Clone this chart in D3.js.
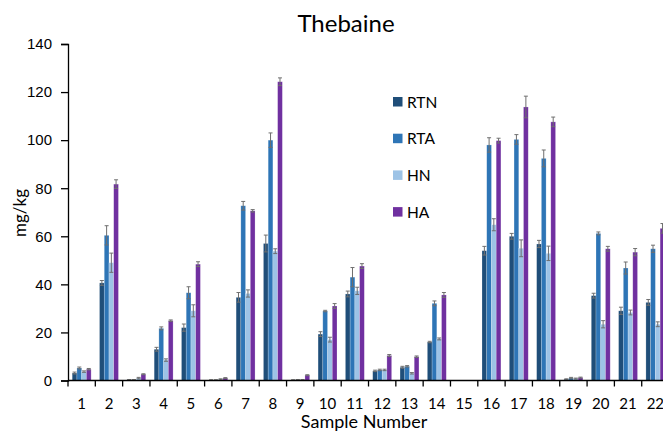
<!DOCTYPE html>
<html lang="en">
<head>
    <meta charset="UTF-8">
    <title>Thebaine</title>
    <script src="https://d3js.org/d3.v7.min.js"></script>
    <style>
        body { margin: 0; padding: 0; background: #fff; overflow: hidden; }
        svg { display: block; font-family: Lato, "Open Sans", sans-serif; }
        .axis path, .axis line { stroke: #000; stroke-width: 1.3; }
        .axis text { font-size: 15px; fill: #000; }
    </style>
</head>
<body>
    <svg width="663" height="433"></svg>

    <script>
        const samples = d3.range(1, 23).map(String);
        const series = ["RTN", "RTA", "HN", "HA"];
        const colors = ["#1F4E79", "#2E75B6", "#9DC3E6", "#7030A0"];

        const rtn = [3.1, 40.6, 0.3, 13, 22, 0.2, 34.6, 57, 0.2, 19.3, 36, 4, 5.5, 16, 0, 54, 60, 56.8, 0.5, 35.3, 29, 32.5];
        const rta = [5.2, 60.4, 0.3, 21.7, 36.5, 0.2, 72.7, 100, 0.3, 28.9, 43, 4.4, 5.9, 32.1, 0, 98, 100.3, 92.4, 1, 61.2, 46.8, 54.8];
        const hn  = [3.7, 49, 1, 8.5, 29, 0.5, 36.2, 53.8, 0.3, 17, 37.3, 4.4, 3, 17.3, 0, 64.8, 55, 52.9, 0.8, 23.4, 28.3, 23.4];
        const ha  = [4.7, 81.7, 2.6, 24.9, 48.4, 1, 70.6, 124.3, 2.2, 31, 47.6, 10.4, 9.9, 35.6, 0, 99.8, 113.8, 107.6, 1.2, 54.8, 53.4, 63.3];

        const rtnErr = [0.4, 1, 0.1, 0.8, 1.5, 0.1, 2, 3.5, 0.1, 1, 1.2, 0.3, 0.4, 0.3, 0, 1.8, 1.2, 1.5, 0.2, 1, 1.5, 1.2];
        const rtaErr = [0.4, 4, 0.1, 0.6, 2.5, 0.1, 1.8, 3, 0.1, 0.3, 4, 0.3, 0.3, 1, 0, 3, 2, 3.5, 0.3, 0.6, 2.5, 1.5];
        const hnErr  = [0.3, 4, 0.3, 0.5, 2.5, 0.2, 1.5, 1, 0.1, 1, 1.5, 0.3, 0.3, 0.4, 0, 2.5, 3.5, 3, 0.2, 1.5, 1, 1];
        const haErr  = [0.3, 1.8, 0.2, 0.3, 1, 0.2, 0.5, 1.6, 0.2, 1, 1, 0.4, 0.3, 1, 0, 1, 4.5, 2, 0.2, 1, 1.5, 2];

        const values = [rtn, rta, hn, ha];
        const errors = [rtnErr, rtaErr, hnErr, haErr];

        const yTicks = [0, 20, 40, 60, 80, 100, 120, 140];

        const plotLeft = 68, plotTop = 44, plotBottom = 380.5;
        const bandW = 27.32;

        const svg = d3.select("svg");

        const x = d3.scaleBand()
            .domain(samples)
            .range([plotLeft, plotLeft + bandW * samples.length])
            .padding(0);

        const x1 = d3.scaleBand()
            .domain(series)
            .range([4.2, bandW - 4.2])
            .padding(0);

        const y = d3.scaleLinear()
            .domain([0, 140])
            .range([plotBottom, plotTop]);

        // bars
        const rows = [];
        samples.forEach((s, i) => {
            series.forEach((k, j) => {
                rows.push({ sample: s, key: k, idx: j, v: values[j][i], e: errors[j][i] });
            });
        });

        const g = svg.append("g");

        g.selectAll("rect")
            .data(rows)
            .enter()
            .append("rect")
            .attr("x", d => x(d.sample) + x1(d.key))
            .attr("y", d => y(d.v))
            .attr("width", x1.bandwidth())
            .attr("height", d => y(0) - y(d.v))
            .attr("fill", d => colors[d.idx])
            .attr("stroke", "#fff")
            .attr("stroke-opacity", 0.35)
            .attr("stroke-width", 0.6);

        // error bars
        const eb = g.selectAll(".err")
            .data(rows.filter(d => d.v > 0))
            .enter()
            .append("g")
            .attr("class", "err")
            .attr("stroke", "#6f6f6f")
            .attr("stroke-width", 1);

        const cx = d => x(d.sample) + x1(d.key) + x1.bandwidth() / 2;

        eb.append("line")
            .attr("x1", cx).attr("x2", cx)
            .attr("y1", d => y(d.v + d.e))
            .attr("y2", d => y(Math.max(0, d.v - d.e)));
        eb.append("line")
            .attr("x1", d => cx(d) - 2).attr("x2", d => cx(d) + 2)
            .attr("y1", d => y(d.v + d.e)).attr("y2", d => y(d.v + d.e));
        eb.append("line")
            .attr("x1", d => cx(d) - 2).attr("x2", d => cx(d) + 2)
            .attr("y1", d => y(Math.max(0, d.v - d.e))).attr("y2", d => y(Math.max(0, d.v - d.e)));

        // y axis
        const yAxis = svg.append("g")
            .attr("class", "axis")
            .attr("transform", `translate(${plotLeft},0)`)
            .call(d3.axisLeft(y).tickValues(yTicks).tickSize(7).tickPadding(9));
        yAxis.selectAll("text").attr("font-size", "15.5px");

        // x axis, ticks on band boundaries
        const xAxis = svg.append("g")
            .attr("class", "axis")
            .attr("transform", `translate(0,${plotBottom})`);
        xAxis.append("line")
            .attr("x1", plotLeft).attr("x2", x.range()[1])
            .attr("y1", 0).attr("y2", 0);
        xAxis.selectAll(".tk")
            .data(samples)
            .enter()
            .append("line")
            .attr("class", "tk")
            .attr("x1", d => x(d)).attr("x2", d => x(d))
            .attr("y1", 0).attr("y2", 6);
        xAxis.selectAll(".lbl")
            .data(samples)
            .enter()
            .append("text")
            .attr("class", "lbl")
            .attr("x", d => x(d) + bandW / 2)
            .attr("y", 28)
            .attr("text-anchor", "middle")
            .text(d => d);

        // titles
        svg.append("text")
            .attr("x", 346).attr("y", 32)
            .attr("text-anchor", "middle")
            .attr("font-size", "24px")
            .text("Thebaine");

        svg.append("text")
            .attr("x", 364).attr("y", 428)
            .attr("text-anchor", "middle")
            .attr("font-size", "18px")
            .text("Sample Number");

        svg.append("text")
            .attr("transform", "translate(26,213) rotate(-90)")
            .attr("text-anchor", "middle")
            .attr("font-size", "17px")
            .text("mg/kg");

        // legend
        const legend = svg.append("g")
            .selectAll("g")
            .data(series)
            .enter()
            .append("g")
            .attr("transform", (d, i) => `translate(393,${102 + i * 36.7})`);
        legend.append("rect")
            .attr("x", 0).attr("y", -5)
            .attr("width", 9.5).attr("height", 9.5)
            .attr("fill", (d, i) => colors[i]);
        legend.append("text")
            .attr("x", 14).attr("y", 5.5)
            .attr("font-size", "15.5px")
            .text(d => d);
    </script>
</body>
</html>
